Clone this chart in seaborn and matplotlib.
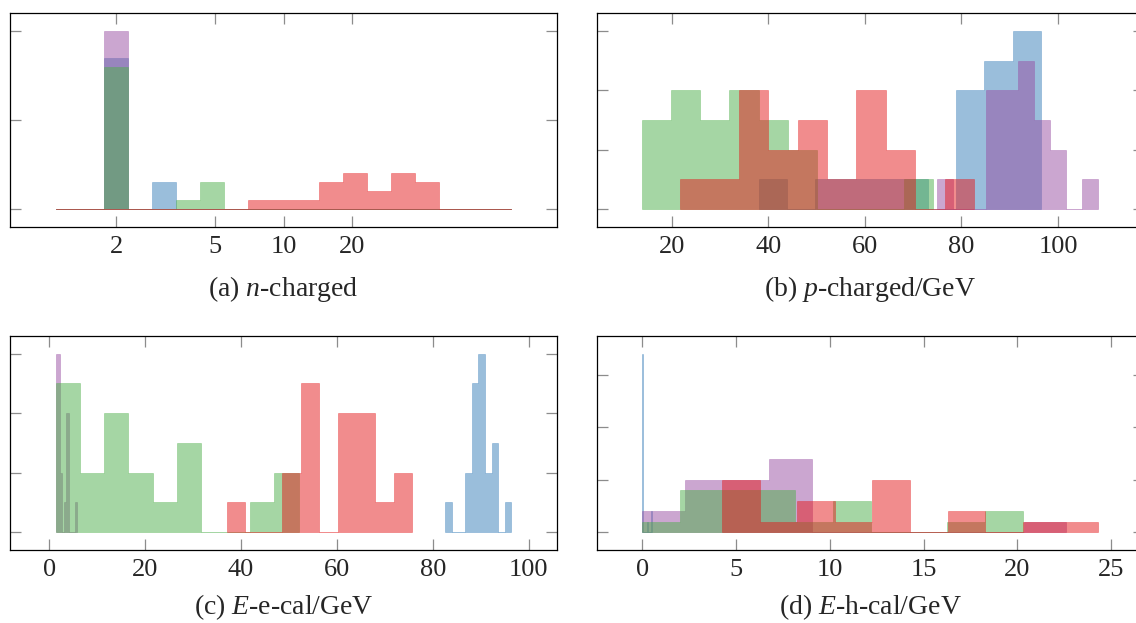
import numpy as np
import matplotlib
matplotlib.use("Agg")
import matplotlib.pyplot as plt
from matplotlib.ticker import NullLocator, FixedLocator, FixedFormatter
import seaborn as sns

# ---------------- data ----------------
# drawing order: ee (blue), mm (purple), tt (green), qq (red)
classes = ["ee", "mm", "tt", "qq"]

# (a) n-charged: counts in 19 logarithmic bins from 1 to 100
a_bins_log10 = np.linspace(0, 2, 20)
a_ee = [0, 0, 17, 0, 3, 0, 0, 0, 0, 0, 0, 0, 0, 0, 0, 0, 0, 0, 0]
a_mm = [0, 0, 20, 0, 0, 0, 0, 0, 0, 0, 0, 0, 0, 0, 0, 0, 0, 0, 0]
a_tt = [0, 0, 16, 0, 0, 1, 3, 0, 0, 0, 0, 0, 0, 0, 0, 0, 0, 0, 0]
a_qq = [0, 0, 0, 0, 0, 0, 0, 0, 1, 1, 1, 3, 4, 2, 4, 3, 0, 0, 0]
a_tick_pos = [1.85, 5, 10, 20]
a_tick_lab = ["2", "5", "10", "20"]

# (b) p-charged/GeV: (min, max) of each class and counts in 10 bins
b_ee_range, b_ee = (38.1, 96.4), [1, 0, 1, 1, 1, 1, 0, 4, 5, 6]
b_mm_range, b_mm = (75.0, 108.3), [1, 0, 0, 4, 4, 5, 3, 2, 0, 1]
b_tt_range, b_tt = (13.9, 74.1), [3, 4, 3, 4, 3, 2, 0, 0, 0, 1]
b_qq_range, b_qq = (21.7, 82.6), [1, 1, 4, 2, 3, 1, 4, 2, 0, 1]
b_ticks = [20, 40, 60, 80, 100]

# (c) E-e-cal/GeV
c_ee_range, c_ee = (82.6, 96.4), [1, 0, 0, 2, 5, 6, 2, 3, 0, 1]
c_mm_range, c_mm = (1.33, 5.83), [6, 6, 2, 0, 1, 4, 0, 0, 0, 1]
c_tt_range, c_tt = (1.33, 52.0), [5, 2, 4, 2, 1, 3, 0, 0, 1, 2]
c_qq_range, c_qq = (37.0, 75.7), [1, 0, 0, 2, 5, 0, 4, 4, 1, 2]
c_ticks = [0, 20, 40, 60, 80, 100]

# (d) E-h-cal/GeV
d_ee_range, d_ee = (0.0, 0.5), [17, 0, 0, 0, 0, 1, 0, 0, 0, 2]
d_mm_range, d_mm = (0.0, 22.6), [2, 5, 5, 7, 0, 0, 0, 0, 0, 1]
d_tt_range, d_tt = (0.0, 20.3), [1, 4, 4, 4, 1, 3, 0, 0, 1, 2]
d_qq_range, d_qq = (4.25, 24.3), [5, 1, 3, 1, 5, 0, 2, 0, 1, 1]
d_ticks = [0, 5, 10, 15, 20, 25]

captions = ["(a) $n$-charged", "(b) $p$-charged/GeV",
            "(c) $E$-e-cal/GeV", "(d) $E$-h-cal/GeV"]
y_ticks = [[0, 10, 20], [0, 2, 4, 6], [0, 2, 4, 6], [0, 5, 10, 15]]

# ---------------- style ----------------
sns.set_style("white")
plt.rcParams["font.family"] = ["Liberation Serif", "DejaVu Serif"]
plt.rcParams["mathtext.fontset"] = "custom"
plt.rcParams["mathtext.rm"] = "Liberation Serif"
plt.rcParams["mathtext.it"] = "Liberation Serif:italic"

set1 = sns.color_palette("Set1")
colors = {"ee": set1[1], "mm": set1[3], "tt": set1[2], "qq": set1[0]}
ALPHA = 0.5
TICK_FS = 19
CAP_FS = 20

W, H = 1136, 623
fig = plt.figure(figsize=(W / 100, H / 100), dpi=100)

def px_axes(left, top, right, bottom):
    return fig.add_axes([left / W, 1 - bottom / H, (right - left) / W, (bottom - top) / H])

ax_a = px_axes(10, 13.3, 557, 226.7)
ax_b = px_axes(596.7, 13.3, 1143.7, 226.7)
ax_c = px_axes(10, 335.7, 557, 550)
ax_d = px_axes(596.7, 335.7, 1143.7, 550)
axes = [ax_a, ax_b, ax_c, ax_d]
cap_offsets = [69, 69, 64, 64]


def hist_linear(ax, rng, counts, color):
    edges = np.linspace(rng[0], rng[1], len(counts) + 1)
    centers = 0.5 * (edges[:-1] + edges[1:])
    sns.histplot(x=list(centers), weights=list(counts), bins=[float(e) for e in edges],
                 element="step", fill=True, color=color, alpha=ALPHA, linewidth=0.45,
                 edgecolor=(*color, ALPHA), ax=ax, legend=False)


def hist_log(ax, counts, color):
    edges = 10 ** a_bins_log10
    centers = np.sqrt(edges[:-1] * edges[1:])
    sns.histplot(x=list(centers), weights=list(counts),
                 bins=[float(e) for e in a_bins_log10], log_scale=True,
                 element="step", fill=True, color=color, alpha=ALPHA,
                 linewidth=0.45, edgecolor=(*color, ALPHA), ax=ax, legend=False)


# (a)
for name, cnt in zip(classes, [a_ee, a_mm, a_tt, a_qq]):
    hist_log(ax_a, cnt, colors[name])
# (b)
for name, rng, cnt in zip(classes, [b_ee_range, b_mm_range, b_tt_range, b_qq_range],
                          [b_ee, b_mm, b_tt, b_qq]):
    hist_linear(ax_b, rng, cnt, colors[name])
# (c)
for name, rng, cnt in zip(classes, [c_ee_range, c_mm_range, c_tt_range, c_qq_range],
                          [c_ee, c_mm, c_tt, c_qq]):
    hist_linear(ax_c, rng, cnt, colors[name])
# (d)
for name, rng, cnt in zip(classes, [d_ee_range, d_mm_range, d_tt_range, d_qq_range],
                          [d_ee, d_mm, d_tt, d_qq]):
    hist_linear(ax_d, rng, cnt, colors[name])

# limits: 10% margins around data
ax_a.set_xscale("log")
ax_a.set_xlim(10 ** (a_bins_log10[0] - 0.2), 10 ** (a_bins_log10[-1] + 0.2))

def lin_lim(ax, ranges):
    lo = min(r[0] for r in ranges)
    hi = max(r[1] for r in ranges)
    m = 0.1 * (hi - lo)
    ax.set_xlim(lo - m, hi + m)

lin_lim(ax_b, [b_ee_range, b_mm_range, b_tt_range, b_qq_range])
lin_lim(ax_c, [c_ee_range, c_mm_range, c_tt_range, c_qq_range])
lin_lim(ax_d, [d_ee_range, d_mm_range, d_tt_range, d_qq_range])

all_counts = [[a_ee, a_mm, a_tt, a_qq], [b_ee, b_mm, b_tt, b_qq],
              [c_ee, c_mm, c_tt, c_qq], [d_ee, d_mm, d_tt, d_qq]]
for ax, cnts, yt in zip(axes, all_counts, y_ticks):
    ymax = max(max(c) for c in cnts)
    ax.set_ylim(-0.1 * ymax, 1.1 * ymax)
    ax.set_yticks(yt)
    ax.set_xlabel("")
    ax.set_ylabel("")

ax_a.xaxis.set_major_locator(FixedLocator(a_tick_pos))
ax_a.xaxis.set_major_formatter(FixedFormatter(a_tick_lab))
ax_a.xaxis.set_minor_locator(NullLocator())
ax_b.set_xticks(b_ticks)
ax_c.set_xticks(c_ticks)
ax_d.set_xticks(d_ticks)

for ax, cap, off in zip(axes, captions, cap_offsets):
    for sp in ax.spines.values():
        sp.set_visible(True)
        sp.set_color("black")
        sp.set_linewidth(0.9)
    ax.tick_params(axis="both", which="both", direction="in", length=7.6, width=0.9,
                   color="#8c8c8c", top=True, right=True, bottom=True, left=True,
                   labelsize=TICK_FS, pad=6.5)
    ax.tick_params(axis="y", labelleft=False, labelright=False)
    ax.tick_params(axis="x", labeltop=False)
    ax.grid(False)
    pos = ax.get_position()
    y = pos.y0 - off / H
    fig.text(pos.x0 + pos.width / 2, y, cap, ha="center", va="baseline", fontsize=CAP_FS)

fig.savefig("out.png", dpi=100)
